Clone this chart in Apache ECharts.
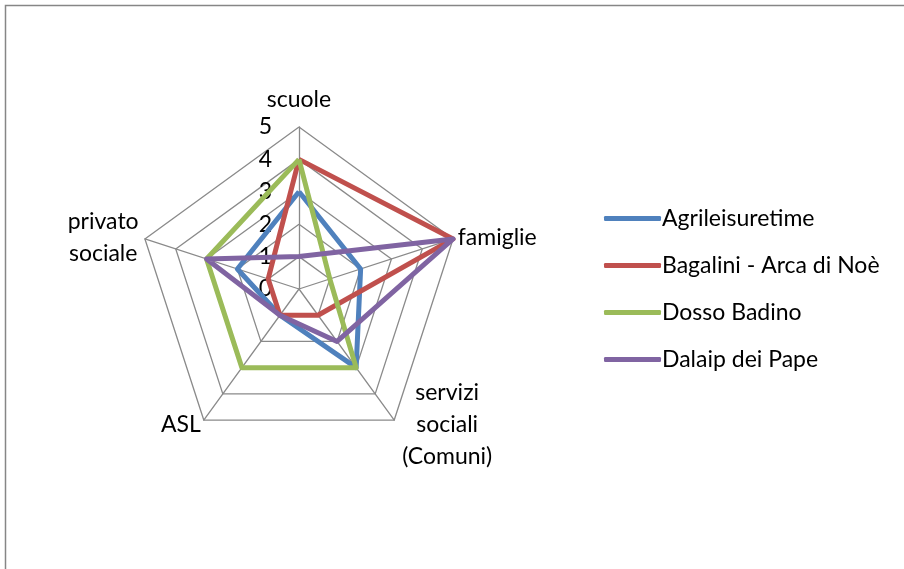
<!DOCTYPE html>
<html>
<head>
<meta charset="utf-8">
<script src="https://cdn.jsdelivr.net/npm/echarts@6/dist/echarts.min.js"></script>
<style>
  html, body { margin: 0; padding: 0; background: #fff; }
  #chart { width: 904px; height: 569px; }
</style>
</head>
<body>
<div id="chart"></div>
<script>
// categories (radar axes, clockwise from top)
const categories = ["scuole", "famiglie", "servizi\nsociali\n(Comuni)", "ASL", "privato\nsociale"];
const maxValue = 5;

// series values, same order as categories
const agrileisuretime = [3, 2, 3, 1, 2];
const bagalini = [4, 5, 1, 1, 1];
const dossoBadino = [4, 1, 3, 3, 3];
const dalaip = [1, 5, 2, 1, 3];

const seriesNames = ["Agrileisuretime", "Bagalini - Arca di Noè", "Dosso Badino", "Dalaip dei Pape"];
const seriesData = [agrileisuretime, bagalini, dossoBadino, dalaip];
const colors = ["#4F81BD", "#C0504D", "#9BBB59", "#8064A2"];

const font = "Lato, 'Liberation Sans', sans-serif";

// echarts lays radar axes out counter-clockwise, so flip the order after the first
const order = [0, 4, 3, 2, 1];
const clockwise = arr => order.map(i => arr[i]);

const chart = echarts.init(document.getElementById("chart"), null, { renderer: "canvas" });

const nameStyle = { fontSize: 23, fontFamily: font, color: "#000", lineHeight: 32, align: "center" };

const option = {
  animation: false,
  color: colors,
  textStyle: { fontFamily: font },
  graphic: [{
    type: "rect",
    shape: { x: 5.5, y: 5.5, width: 1200, height: 1200 },
    style: { fill: "none", stroke: "#868686", lineWidth: 1.5 },
    silent: true
  }],
  legend: {
    orient: "vertical",
    left: 599,
    top: 202,
    itemWidth: 57,
    itemHeight: 5,
    itemGap: 24,
    icon: "roundRect",
    textStyle: { fontSize: 23, color: "#000", fontFamily: font, padding: [0, 0, 0, -4] },
    data: seriesNames
  },
  radar: {
    center: [299, 289],
    radius: 162,
    startAngle: 90,
    shape: "polygon",
    splitNumber: 5,
    axisName: {
      color: "#000", fontSize: 23, fontFamily: font, lineHeight: 32,
      // multi-line names are centred line by line, like the original
      formatter: name => {
        if (name.indexOf("\n") < 0) return name;
        const key = name.indexOf("servizi") === 0 ? "s" : "p";
        return name.split("\n").map(s => "{" + key + "|" + s + "}").join("\n");
      },
      rich: {
        s: Object.assign({ width: 100 }, nameStyle),
        p: Object.assign({ width: 74 }, nameStyle)
      }
    },
    nameGap: 5,
    splitLine: { lineStyle: { color: "#8a8a8a", width: 1.3 } },
    splitArea: { show: false },
    axisLine: { lineStyle: { color: "#8a8a8a", width: 1.3 } },
    axisTick: { show: false },
    axisLabel: { show: false },
    indicator: clockwise(categories).map((c, i) => ({
      name: c,
      min: 0,
      max: maxValue,
      axisLabel: i === 0
        ? { show: true, color: "#000", fontSize: 23, fontFamily: font, margin: 27 }
        : { show: false }
    }))
  },
  series: [{
    type: "radar",
    symbol: "none",
    data: seriesNames.map((n, i) => ({
      name: n,
      value: clockwise(seriesData[i]),
      lineStyle: { color: colors[i], width: 5 },
      itemStyle: { color: colors[i] }
    }))
  }]
};

chart.setOption(option);
</script>
</body>
</html>
